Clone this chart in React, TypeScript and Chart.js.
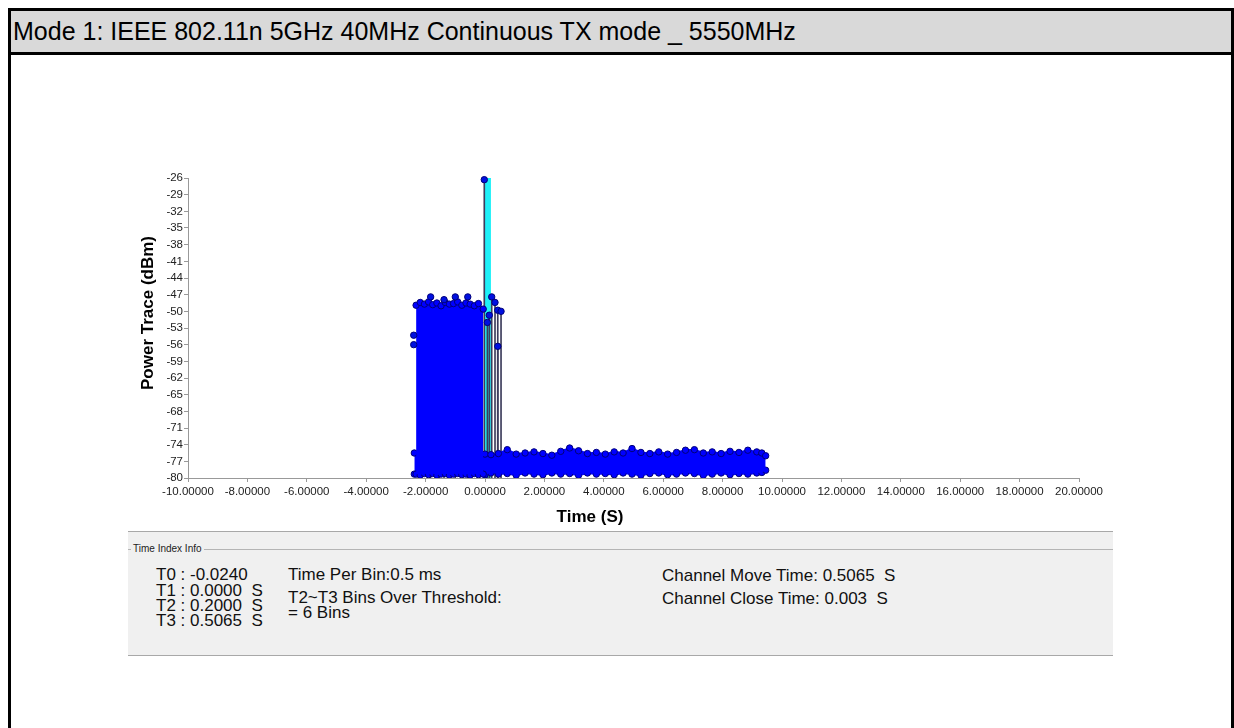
import React, { useEffect, useRef } from "react";
import { Chart, registerables } from "chart.js";

Chart.register(...registerables);

// ---------- text ----------
const headerTitle = "Mode 1: IEEE 802.11n 5GHz 40MHz Continuous TX mode _ 5550MHz";
const xAxisTitle = "Time (S)";
const yAxisTitle = "Power Trace (dBm)";
const panelLegend = "Time Index Info";
const timeIndexLines = ["T0 : -0.0240", "T1 : 0.0000  S", "T2 : 0.2000  S", "T3 : 0.5065  S"];
const binInfoLines = ["Time Per Bin:0.5 ms", "T2~T3 Bins Over Threshold:", "= 6 Bins"];
const channelInfoLines = ["Channel Move Time: 0.5065  S", "Channel Close Time: 0.003  S"];

// ---------- axes ----------
const xMin = -10;
const xMax = 20;
const yMin = -80;
const yMax = -26;
const xTickValues = [-10, -8, -6, -4, -2, 0, 2, 4, 6, 8, 10, 12, 14, 16, 18, 20];
const yTickValues = [-80, -77, -74, -71, -68, -65, -62, -59, -56, -53, -50, -47, -44, -41, -38, -35, -32, -29, -26];

// ---------- markers ----------
const T1 = 0.0;
const T2 = 0.2;

// ---------- dense transmission burst (envelope) ----------
const burstTimes = [-2.32, -2.18, -2.04, -1.90, -1.76, -1.62, -1.48, -1.34, -1.20, -1.06, -0.92, -0.78, -0.64, -0.50, -0.36, -0.22, -0.06];
const burstHigh = [-48.9, -48.4, -48.7, -48.3, -48.8, -48.5, -49.0, -48.4, -48.7, -48.6, -48.3, -48.9, -48.5, -48.7, -49.0, -48.6, -49.6];
const burstLow = [-79.3, -79.5, -79.2, -79.4, -79.2, -79.5, -79.3, -79.2, -79.5, -79.3, -79.2, -79.4, -79.3, -79.5, -79.2, -79.4, -79.3];

// ---------- outlying samples on the burst's left edge ----------
const edgeTimes = [-2.40, -2.40];
const edgeValues = [-54.3, -56.0];

// ---------- noise floor band ----------
const floorTimes = [-2.38, -1.60, -0.80, 0.00, 0.20, 0.45, 0.75, 1.05, 1.35, 1.65, 1.95, 2.25, 2.55, 2.85, 3.15, 3.45, 3.75, 4.05, 4.35, 4.65, 4.95, 5.25, 5.55, 5.85, 6.15, 6.45, 6.75, 7.05, 7.35, 7.65, 7.95, 8.25, 8.55, 8.85, 9.15, 9.32, 9.45];
const floorHigh = [-75.5, -75.6, -75.6, -75.7, -75.8, -75.6, -74.9, -75.7, -75.5, -75.3, -75.6, -75.9, -75.2, -74.6, -75.1, -75.6, -75.4, -75.7, -75.3, -75.5, -74.7, -75.4, -75.6, -75.3, -75.7, -75.4, -75.0, -74.9, -75.5, -75.3, -75.6, -75.2, -75.4, -75.0, -75.3, -75.5, -76.0];
const floorLow = [-79.3, -79.4, -79.2, -79.4, -79.1, -79.3, -79.2, -79.5, -79.1, -79.3, -79.4, -79.1, -79.3, -79.2, -79.5, -79.1, -79.3, -79.2, -79.4, -79.1, -79.3, -79.5, -79.2, -79.1, -79.4, -79.3, -79.1, -79.2, -79.5, -79.3, -79.1, -79.4, -79.2, -79.3, -79.1, -79.0, -78.6];

// ---------- individual stems (peaks standing out) ----------
const stemTimes = [-1.83, -1.38, -1.00, -0.58, -0.024, 0.08, 0.145, 0.226, 0.337, 0.43, 0.43, 0.54];
const stemValues = [-47.4, -47.9, -47.4, -47.4, -26.3, -52.0, -50.7, -47.4, -48.4, -56.3, -49.8, -50.0];

const FONT = '"Liberation Sans", Arial, Helvetica, sans-serif';
const BLUE = "#0000ff";
const NAVY = "#00007a";

const axisTitlePlugin = {
  id: "axisTitles",
  afterDraw(chart: any) {
    const { ctx, chartArea } = chart;
    ctx.save();
    ctx.fillStyle = "#000";
    ctx.font = `bold 17px ${FONT}`;
    ctx.textAlign = "center";
    ctx.textBaseline = "middle";
    ctx.fillText(xAxisTitle, chartArea.left + 402, chartArea.bottom + 39);
    ctx.translate(chartArea.left - 40, chartArea.top + 135);
    ctx.rotate(-Math.PI / 2);
    ctx.fillText(yAxisTitle, 0, 0);
    ctx.restore();
  },
};

function pts(xs: number[], ys: number[]) {
  return xs.map((x, i) => ({ x, y: ys[i] }));
}

function ChartView() {
  const ref = useRef<HTMLCanvasElement | null>(null);
  useEffect(() => {
    if (!ref.current) return;
    const envelope = (data: any, fill: any) => ({
      type: "line" as const,
      data,
      fill,
      backgroundColor: BLUE,
      borderColor: BLUE,
      borderWidth: 2,
      tension: 0,
      pointRadius: 3.2,
      pointBackgroundColor: BLUE,
      pointBorderColor: NAVY,
      pointBorderWidth: 1,
    });
    const dots = (data: any) => ({
      type: "scatter" as const,
      data,
      pointRadius: 3.2,
      pointBackgroundColor: "#0010e0",
      pointBorderColor: NAVY,
      pointBorderWidth: 1,
      showLine: false,
      clip: false,
    });
    const chart = new Chart(ref.current, {
      type: "scatter",
      data: {
        datasets: [
          dots(pts(stemTimes, stemValues)) as any,
          dots(pts(edgeTimes, edgeValues)) as any,
          envelope(pts(burstTimes, burstHigh), "+1"),
          envelope(pts(burstTimes, burstLow), false),
          envelope(pts(floorTimes, floorHigh), "+1"),
          envelope(pts(floorTimes, floorLow), false),
          {
            type: "bar",
            data: stemTimes.map((t, i) => ({ x: t, y: [yMin, stemValues[i]] })),
            backgroundColor: "#3c3c5c",
            barThickness: 1,
            grouped: false,
          } as any,
          {
            type: "line",
            data: [
              { x: T1, y: yMax },
              { x: T2, y: yMax },
            ],
            fill: "start",
            backgroundColor: "#1ef0f8",
            borderColor: "#1ef0f8",
            borderWidth: 1,
            pointRadius: 0,
          } as any,
        ],
      },
      options: {
        responsive: true,
        maintainAspectRatio: false,
        animation: false,
        events: [],
        layout: { padding: { left: 0, top: 28, right: 51, bottom: 0 } },
        plugins: { legend: { display: false }, tooltip: { enabled: false }, title: { display: false } },
        scales: {
          x: {
            type: "linear",
            min: xMin,
            max: xMax,
            offset: false,
            afterBuildTicks: (s: any) => {
              s.ticks = xTickValues.map((v) => ({ value: v }));
            },
            afterFit: (s: any) => {
              s.height = 52;
              s.paddingLeft = 0;
              s.paddingRight = 0;
            },
            ticks: {
              autoSkip: false,
              maxRotation: 0,
              minRotation: 0,
              padding: 3,
              color: "#222",
              font: { family: FONT, size: 11.5 },
              callback: (v: any) => Number(v).toFixed(5),
            },
            grid: { display: true, drawOnChartArea: false, drawTicks: true, tickLength: 4, color: "#999", offset: false },
            border: { display: true, color: "#999" },
          },
          y: {
            type: "linear",
            min: yMin,
            max: yMax,
            afterBuildTicks: (s: any) => {
              s.ticks = yTickValues.map((v) => ({ value: v }));
            },
            afterFit: (s: any) => {
              s.width = 88;
              s.paddingTop = 0;
              s.paddingBottom = 0;
            },
            ticks: {
              autoSkip: false,
              padding: 1,
              color: "#222",
              font: { family: FONT, size: 11.5 },
            },
            grid: { display: true, drawOnChartArea: false, drawTicks: true, tickLength: 4, color: "#999" },
            border: { display: true, color: "#999" },
          },
        },
      } as any,
      plugins: [axisTitlePlugin],
    });
    return () => chart.destroy();
  }, []);
  return <canvas ref={ref} />;
}

const textStyle = (left: number, top: number, size: number): React.CSSProperties => ({
  position: "absolute",
  left,
  top,
  fontSize: size,
  lineHeight: `${size}px`,
  whiteSpace: "pre",
  color: "#111",
});

export default function App() {
  useEffect(() => {
    document.body.style.overflow = "hidden";
  }, []);
  const tRows = [566, 581.5, 596.5, 611.5];
  const binRows = [566, 588.5, 603.5];
  const chanRows = [567, 589.5];
  return (
    <div
      style={{
        position: "fixed",
        left: 0,
        top: 0,
        width: 1234,
        height: 728,
        background: "#fff",
        overflow: "hidden",
        fontFamily: FONT,
      }}
    >
      {/* outer frame */}
      <div
        style={{
          position: "absolute",
          left: 8,
          top: 8,
          width: 1226,
          height: 760,
          border: "3px solid #000",
          boxSizing: "border-box",
        }}
      />
      {/* header */}
      <div
        style={{
          position: "absolute",
          left: 11,
          top: 11,
          width: 1220,
          height: 41,
          background: "#d9d9d9",
          borderBottom: "3px solid #000",
        }}
      />
      <div style={{ ...textStyle(13, 18.5, 25), color: "#000" }}>{headerTitle}</div>

      {/* chart */}
      <div style={{ position: "absolute", left: 100, top: 150, width: 1030, height: 380 }}>
        <ChartView />
      </div>

      {/* info panel */}
      <div
        style={{
          position: "absolute",
          left: 128,
          top: 531,
          width: 985,
          height: 125,
          background: "#f0f0f0",
          borderTop: "1px solid #a8a8a8",
          borderBottom: "1px solid #a8a8a8",
          boxSizing: "border-box",
        }}
      />
      <div style={{ position: "absolute", left: 128, top: 549, width: 985, height: 0, borderTop: "1px solid #b4b4b4" }} />
      <div
        style={{
          position: "absolute",
          left: 131,
          top: 543,
          fontSize: 10,
          lineHeight: "12px",
          padding: "0 2px",
          background: "#f0f0f0",
          color: "#222",
        }}
      >
        {panelLegend}
      </div>
      {timeIndexLines.map((s, i) => (
        <div key={"t" + i} style={textStyle(156, tRows[i], 17)}>
          {s}
        </div>
      ))}
      {binInfoLines.map((s, i) => (
        <div key={"b" + i} style={textStyle(288, binRows[i], 17)}>
          {s}
        </div>
      ))}
      {channelInfoLines.map((s, i) => (
        <div key={"c" + i} style={textStyle(662, chanRows[i], 17)}>
          {s}
        </div>
      ))}
    </div>
  );
}
